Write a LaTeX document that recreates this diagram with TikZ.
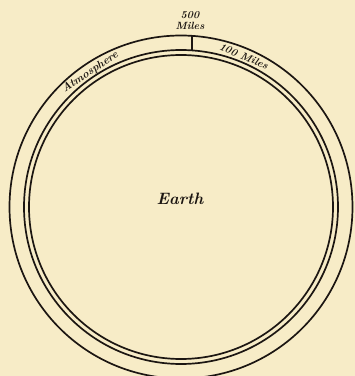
\documentclass[tikz,border=0pt]{standalone}
\usetikzlibrary{calc}
\definecolor{paper}{RGB}{247,236,199}
\definecolor{ink}{RGB}{28,22,18}
\begin{document}
\begin{tikzpicture}[x=1pt,y=1pt,
  ring/.style={draw=ink,line width=1.7pt},
  lbl/.style={text=ink,inner sep=0pt}]
\fill[paper] (0,0) rectangle (355,376);
\useasboundingbox (0,0) rectangle (355,376);
\coordinate (c) at (181,169);
\draw[ring] (c) circle[radius=152];
\draw[ring] (c) circle[radius=157];
\draw[ring] (c) circle[radius=171.5];
\coordinate (vtop) at ($(c)+(11,171.2)$);
\coordinate (vbot) at ($(c)+(11,156.6)$);
\draw[ink,line width=1.2pt] (vtop) -- (vbot);
\node[lbl,font=\bfseries\itshape\fontsize{10.5}{11}\selectfont,align=center] (m500) at (190,355.5) {500\\Miles};
\node[lbl,font=\bfseries\itshape\fontsize{16.5}{18}\selectfont] (earth) at (180,177) {Earth};
\node[lbl,font=\bfseries\itshape\fontsize{11}{12}\selectfont,anchor=base,rotate=33.9] (atm) at ($(c)+(123.9:159.8)$) {Atmosphere};
\node[lbl,font=\bfseries\itshape\fontsize{10.5}{11}\selectfont,anchor=base,rotate=-22.6] (hm) at ($(c)+(67.4:159.8)$) {100 Miles};
\end{tikzpicture}
\end{document}
